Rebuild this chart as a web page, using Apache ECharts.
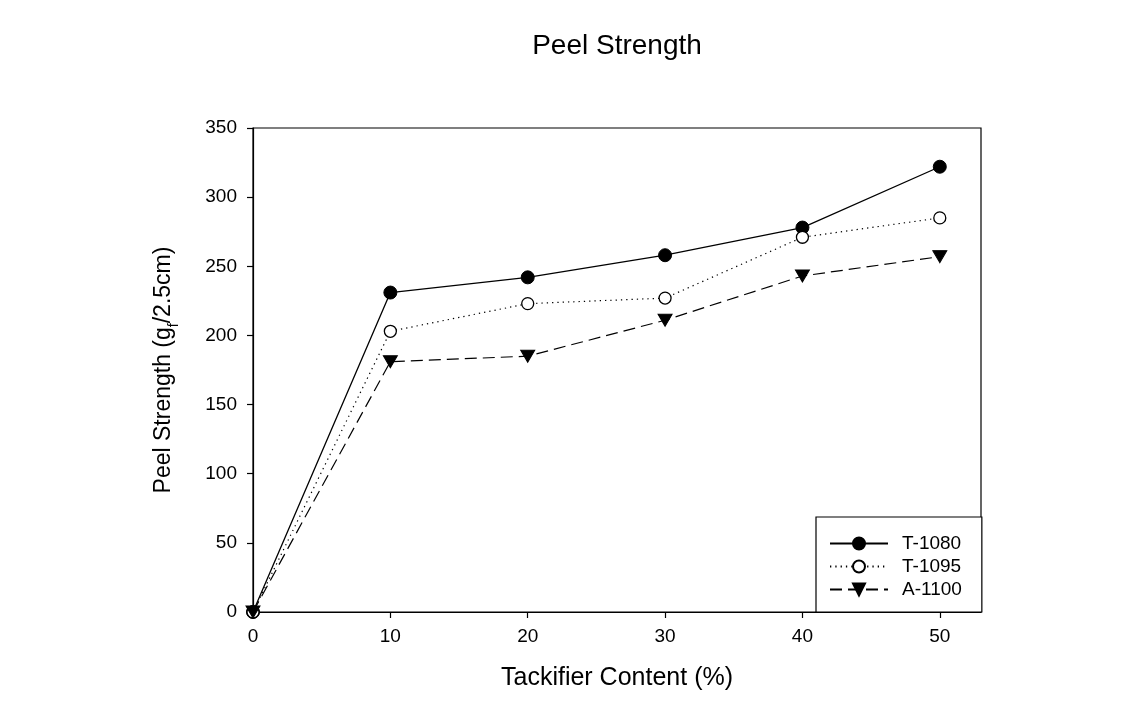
<!DOCTYPE html>
<html>
<head>
<meta charset="utf-8">
<script src="https://cdn.jsdelivr.net/npm/echarts@6/dist/echarts.min.js"></script>
<style>
html,body{margin:0;padding:0;background:#fff;}
#chart{width:1125px;height:707px;}
</style>
</head>
<body>
<div id="chart"></div>
<script>
const xValues = [0, 10, 20, 30, 40, 50];
const xTickLabels = [0, 10, 20, 30, 40, 50];
const t1080 = [0, 231, 242, 258, 278, 322];
const t1095 = [0, 203, 223, 227, 271, 285];
const a1100 = [0, 181, 185, 211, 243, 257];
const seriesNames = ['T-1080', 'T-1095', 'A-1100'];

const FONT = '"Liberation Sans", Arial, sans-serif';
const chart = echarts.init(document.getElementById('chart'), null, {renderer: 'canvas'});
const pairs = arr => xValues.map((x, i) => [x, arr[i]]);

chart.setOption({
  animation: false,
  backgroundColor: '#fff',
  title: {
    text: 'Peel Strength', left: 612, textAlign: 'center', top: 27,
    textStyle: {fontFamily: FONT, fontSize: 28, fontWeight: 'normal', color: '#000'}
  },
  grid: {left: 253, top: 128, right: 144, bottom: 95, show: true, borderColor: '#000', borderWidth: 1.2, backgroundColor: 'transparent'},
  legend: {
    orient: 'vertical', left: 816, top: 517,
    padding: [17, 20, 13, 13],
    itemGap: 4, itemWidth: 58, itemHeight: 15,
    borderColor: '#000', borderWidth: 1.2, backgroundColor: '#fff',
    textStyle: {fontFamily: FONT, fontSize: 19, color: '#000', padding: [0, 0, 0, 9]},
    data: seriesNames
  },
  xAxis: {
    type: 'value', min: 0, max: 53, interval: 10,
    name: 'Tackifier Content (%)', nameLocation: 'middle', nameGap: 54,
    nameTextStyle: {fontFamily: FONT, fontSize: 25, color: '#000'},
    axisLine: {show: true, lineStyle: {color: '#000', width: 1.2}},
    axisTick: {show: true, inside: false, length: 6, customValues: xTickLabels.slice(1), lineStyle: {color: '#000', width: 1.2}},
    axisLabel: {fontFamily: FONT, fontSize: 19, color: '#000', margin: 15, customValues: xTickLabels},
    splitLine: {show: false}
  },
  yAxis: {
    type: 'value', min: 0, max: 350, interval: 50,
    name: '{a|Peel Strength (g}{s|f}{a|/2.5cm)}', nameLocation: 'middle', nameGap: 78,
    nameTextStyle: {fontFamily: FONT, fontSize: 23, color: '#000',
      rich: {
        a: {fontFamily: FONT, fontSize: 23, color: '#000'},
        s: {fontFamily: FONT, fontSize: 14, color: '#000', verticalAlign: 'bottom', padding: [0, 0, -6, 0]}
      }},
    axisLine: {show: true, lineStyle: {color: '#000', width: 1.2}},
    axisTick: {show: true, inside: false, length: 6, lineStyle: {color: '#000', width: 1.2}},
    axisLabel: {fontFamily: FONT, fontSize: 19, color: '#000', margin: 16},
    splitLine: {show: false}
  },
  series: [
    {
      name: seriesNames[0], type: 'line', data: pairs(t1080), clip: false,
      symbol: 'circle', symbolSize: 13,
      lineStyle: {color: '#000', width: 1.3, type: 'solid'},
      itemStyle: {color: '#000', borderColor: '#000', borderWidth: 1}
    },
    {
      name: seriesNames[1], type: 'line', data: pairs(t1095), clip: false,
      symbol: 'circle', symbolSize: 12,
      lineStyle: {color: '#000', width: 1.2, type: [1.3, 4]},
      itemStyle: {color: '#fff', borderColor: '#000', borderWidth: 1.3}
    },
    {
      name: seriesNames[2], type: 'line', data: pairs(a1100), clip: false,
      symbol: 'triangle', symbolSize: [14, 12], symbolRotate: 180,
      lineStyle: {color: '#000', width: 1.2, type: [12, 6]},
      itemStyle: {color: '#000', borderColor: '#000', borderWidth: 1}
    }
  ]
});
</script>
</body>
</html>
